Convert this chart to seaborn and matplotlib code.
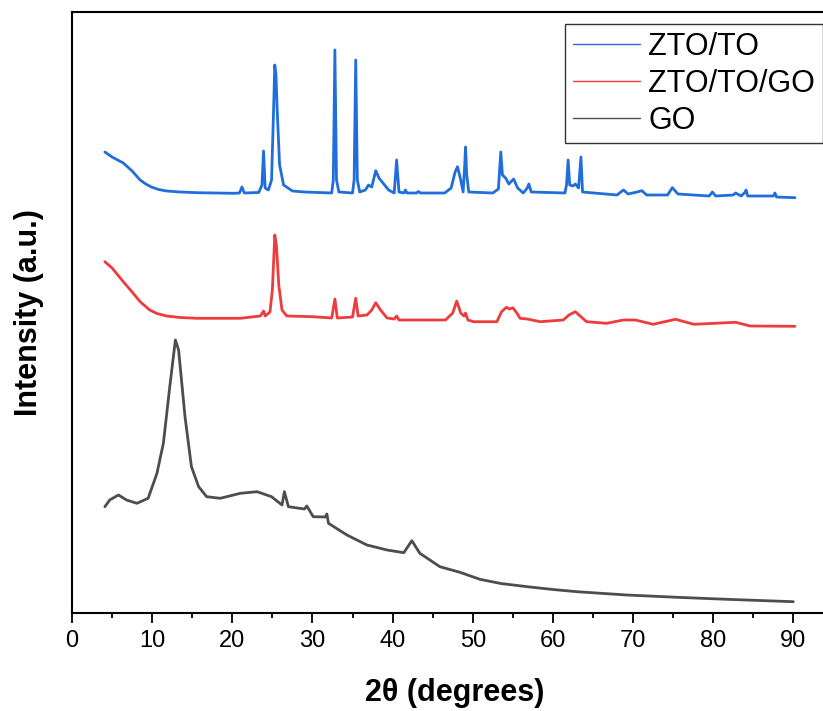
import matplotlib
matplotlib.use("Agg")
import matplotlib.pyplot as plt
import seaborn as sns
import pandas as pd
from matplotlib.ticker import MultipleLocator

# ---- data (2theta, intensity; intensity = arbitrary units) ----
zto_to_x = [4.1, 5.0, 6.4, 7.5, 8.5, 9.2, 9.9, 10.8, 11.8, 13.5, 15.6, 20.2, 20.9, 21.2, 21.5, 23.3, 23.7, 23.9, 24.1,
            24.5, 24.9, 25.15, 25.3, 25.45, 25.6, 25.9, 26.4, 27.5, 29.0, 32.4, 32.6, 32.8, 33.0, 33.3,
            35.0, 35.2, 35.4, 35.6, 35.9, 36.6, 37.0, 37.4, 37.9, 38.3, 38.8, 39.5, 40.2, 40.5, 40.8,
            41.4, 41.6, 41.8, 43.0, 43.2, 43.5, 46.5, 47.3, 47.8, 48.1, 48.5, 48.8, 49.0, 49.1, 49.25,
            49.5, 52.5, 53.2, 53.5, 53.7, 54.1, 54.5, 55.1, 55.6, 56.3, 56.8, 57.0, 57.3, 61.5, 61.7,
            61.9, 62.1, 62.5, 62.8, 63.2, 63.5, 63.7, 68.0, 68.8, 69.4, 70.5, 71.1, 71.7, 74.3, 74.9,
            75.6, 79.5, 79.9, 80.3, 82.5, 82.8, 83.5, 84.0, 84.1, 84.3, 87.5, 87.7, 87.9, 90.2]
zto_to_y = [461, 456, 450, 442, 433, 429, 426, 423.5, 422, 421, 420.3, 419.7, 420, 426, 420, 420.5, 428, 462, 425,
            423, 433, 503, 548, 538, 503, 448, 428, 422, 421, 420, 433, 563, 433, 421,
            420, 433, 553, 433, 421, 423, 428, 426, 442.3, 435, 430, 423, 420, 453, 421,
            420, 423, 420, 420, 421.5, 420, 420, 425, 441, 446.3, 433, 421, 448, 466, 438,
            421, 420, 424, 461, 438, 435, 429, 434, 425, 420, 425, 429, 421, 420, 428,
            453, 428, 427, 429, 425, 456, 421, 418, 423, 419, 421, 422.3, 418, 418, 425.3,
            419, 417, 421, 417, 418, 420, 417, 421, 423, 417, 417, 420, 416, 415.3]

zto_to_go_x = [4.1, 5.0, 6.4, 7.5, 8.5, 9.7, 10.6, 11.8, 13.5, 15.6, 21.0, 23.5, 23.9, 24.1, 24.7, 25.0, 25.3,
               25.5, 25.8, 26.2, 26.8, 30.0, 32.4, 32.8, 33.1, 35.0, 35.4, 35.7, 36.8, 37.4, 37.9,
               38.5, 39.3, 40.2, 40.5, 40.8, 46.6, 47.5, 48.0, 48.5, 48.9, 49.1, 49.4, 50.1, 53.0,
               53.6, 54.2, 54.6, 55.0, 55.5, 55.9, 56.8, 58.4, 61.3, 62.0, 62.8, 63.4, 64.2, 66.7,
               68.8, 70.3, 72.5, 75.3, 77.6, 82.8, 84.6, 90.2]
zto_to_go_y = [351.3, 345, 331.3, 321, 311.3, 303, 299.5, 297, 295.5, 294.7, 294.7, 297, 302, 297, 301, 323, 378,
               368, 328, 303, 297, 296.3, 295, 314, 295, 296, 314.7, 297, 298, 303, 310.3,
               303, 295, 294, 297, 293, 293, 300, 312, 300, 297, 300, 293, 291.3, 291.3,
               301.3, 305.7, 304, 305.3, 300, 294.7, 294, 291.3, 293, 298, 301.3, 297, 291.3, 289.7,
               293, 293, 288.7, 293.7, 288.7, 290.7, 287, 286.7]

go_x = [4.1, 4.7, 5.8, 6.8, 8.1, 9.5, 10.6, 11.4, 12.2, 12.9, 13.3, 14.1, 14.9, 15.8, 16.8, 18.5,
        21.0, 23.1, 24.9, 26.2, 26.5, 27.0, 29.0, 29.3, 30.1, 31.6, 31.8, 32.0, 34.3, 36.8, 39.3,
        41.4, 42.4, 43.4, 45.9, 48.4, 50.9, 53.5, 56.8, 60.0, 63.0, 69.2, 75.5, 81.7, 90.0]
go_y = [106.3, 113, 118, 113, 109.7, 114.7, 139.7, 169.7, 226.3, 273, 263, 196.3, 146.3, 126.3, 116.3,
        114.7, 119.7, 121.3, 116.3, 108, 121.3, 106.3, 104, 107, 96.3, 96, 99, 89.7, 78, 68, 63,
        60.3, 72.3, 59.7, 46.3, 40.7, 33.7, 29.5, 26.3, 23.5, 21.3, 18, 15.7, 13.7, 11.3]

series_names = ["ZTO/TO", "ZTO/TO/GO", "GO"]
series_colors = ["#1F6EDC", "#EE3B3E", "#4D4D4D"]

frames = []
for name, xs, ys in zip(series_names,
                        [zto_to_x, zto_to_go_x, go_x],
                        [zto_to_y, zto_to_go_y, go_y]):
    frames.append(pd.DataFrame({"two_theta": xs, "intensity": ys, "sample": name}))
df = pd.concat(frames, ignore_index=True)

sns.set_theme(style="ticks")
plt.rcParams["font.family"] = ["Liberation Sans", "DejaVu Sans"]
plt.rcParams["text.color"] = "black"
plt.rcParams["axes.labelcolor"] = "black"
plt.rcParams["xtick.color"] = "black"
plt.rcParams["ytick.color"] = "black"

fig = plt.figure(figsize=(8.23, 7.11), dpi=100)
ax = fig.add_axes([72 / 823, (711 - 613) / 711, 1 - 72 / 823, (613 - 12) / 711])

sns.lineplot(data=df, x="two_theta", y="intensity", hue="sample", hue_order=series_names,
             palette=dict(zip(series_names, series_colors)), sort=False, estimator=None,
             linewidth=2.0, ax=ax)

ax.set_xlim(0, 93.7)
ax.set_ylim(0, 601)
ax.xaxis.set_major_locator(MultipleLocator(10))
ax.xaxis.set_minor_locator(MultipleLocator(5))
ax.set_yticks([])
ax.tick_params(axis="x", which="major", direction="out", length=7, width=1.3,
               labelsize=17, pad=5, colors="black", labelcolor="black")
ax.tick_params(axis="x", which="minor", direction="out", length=3.5, width=1.3, colors="black")
for side in ["left", "bottom", "top"]:
    ax.spines[side].set_linewidth(1.5)
    ax.spines[side].set_color("black")
ax.spines["right"].set_visible(False)

ax.set_xlabel("2θ (degrees)", fontsize=22, fontweight="bold", color="black")
ax.xaxis.set_label_coords(0.509, -0.108)
ax.set_ylabel("Intensity (a.u.)", fontsize=22, fontweight="bold", color="black", labelpad=20)

handles, labels = ax.get_legend_handles_labels()
for h in handles:
    h.set_linewidth(1.0)
leg = ax.legend(handles, labels, loc="upper right", bbox_to_anchor=(0.9995, 0.98),
                fontsize=22, frameon=True, fancybox=False, edgecolor="black",
                handlelength=2.2, handletextpad=0.27, borderpad=0.25, labelspacing=0.23,
                borderaxespad=0.0)
leg.get_frame().set_linewidth(1.0)
for t in leg.get_texts():
    t.set_color("black")

fig.savefig("out.png", dpi=100)
